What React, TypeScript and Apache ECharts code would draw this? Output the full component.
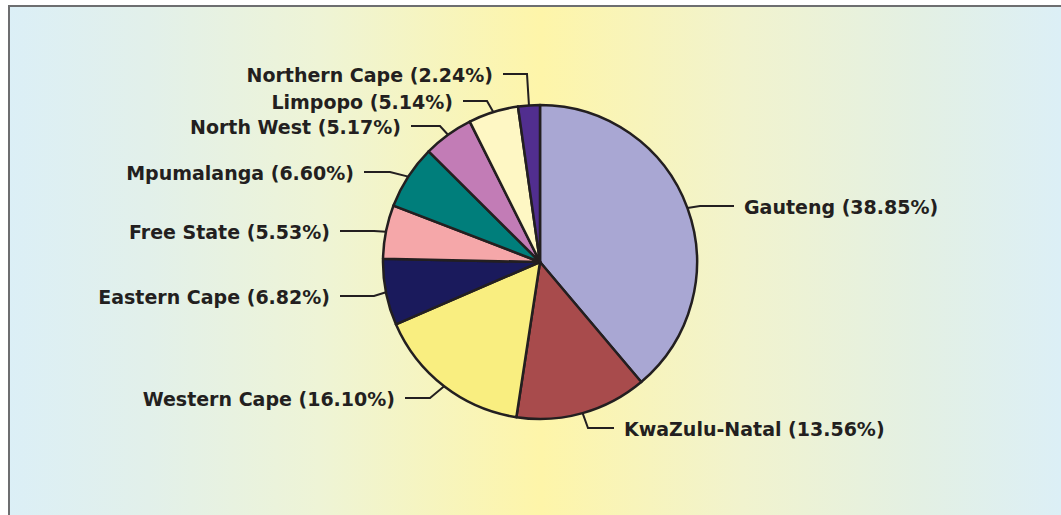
import React, { useEffect, useRef } from "react";
import * as echarts from "echarts";

const provinces = [
  "Gauteng",
  "KwaZulu-Natal",
  "Western Cape",
  "Eastern Cape",
  "Free State",
  "Mpumalanga",
  "North West",
  "Limpopo",
  "Northern Cape",
];
const shares = [38.85, 13.56, 16.1, 6.82, 5.53, 6.6, 5.17, 5.14, 2.24];
const colors = [
  "#A9A7D3",
  "#A84B4C",
  "#F9EE80",
  "#1A1A5C",
  "#F5A7A9",
  "#007E7B",
  "#C27CB6",
  "#FEF7C4",
  "#512E8F",
];

// label-line layout: [elbow, end] and which side the text sits on
const labelGuides: [number[], number[], "left" | "right"][] = [
  [[700, 206], [734, 206], "left"],
  [[588, 428], [614, 428], "left"],
  [[430, 398], [405, 398], "right"],
  [[374, 296], [340, 296], "right"],
  [[374, 231], [340, 231], "right"],
  [[390, 172], [364, 172], "right"],
  [[440, 126], [411, 126], "right"],
  [[487, 101], [463, 101], "right"],
  [[527, 74], [503, 74], "right"],
];

const CX = 540;
const CY = 262;
const R = 157;
const INK = "#231F20";

export default function App() {
  const ref = useRef<HTMLDivElement>(null);
  useEffect(() => {
    if (!ref.current) return;
    const chart = echarts.init(ref.current, null, { renderer: "svg" });
    const total = shares.reduce((a, b) => a + b, 0);
    const mids: number[] = [];
    let acc = 0;
    shares.forEach((v) => {
      mids.push(((acc + v / 2) / total) * Math.PI * 2);
      acc += v;
    });
    chart.setOption({
      animation: false,
      graphic: [
        {
          type: "rect",
          z: -10,
          silent: true,
          shape: { x: 9, y: 6, width: 1080, height: 540 },
          style: {
            fill: {
              type: "linear",
              global: true,
              x: 0,
              y: 0,
              x2: 1061,
              y2: 0,
              colorStops: [
                { offset: 0, color: "#DBEFF7" },
                { offset: 0.14, color: "#E2F0EA" },
                { offset: 0.3, color: "#EEF4D6" },
                { offset: 0.51, color: "#FEF5A9" },
                { offset: 0.7, color: "#F1F3CE" },
                { offset: 0.87, color: "#E3F0E4" },
                { offset: 1, color: "#DCEFF6" },
              ],
            },
            stroke: "#6D6E70",
            lineWidth: 2,
          },
        },
      ],
      series: [
        {
          type: "pie",
          center: [CX, CY],
          radius: R,
          startAngle: 90,
          clockwise: true,
          avoidLabelOverlap: false,
          emphasis: { disabled: true },
          data: provinces.map((name, i) => ({
            name,
            value: shares[i],
            itemStyle: { color: colors[i] },
          })),
          itemStyle: { borderColor: INK, borderWidth: 2.5 },
          label: {
            show: true,
            position: "outside",
            formatter: (p: any) => `${p.name} (${Number(p.value).toFixed(2)}%)`,
            fontFamily: "DejaVu Sans",
            fontWeight: "bold",
            fontSize: 19,
            color: INK,
          },
          labelLine: {
            show: true,
            length: 10,
            length2: 10,
            lineStyle: { color: INK, width: 2 },
          },
          labelLayout: (params: any) => {
            const i = params.dataIndex;
            const [elbow, end, side] = labelGuides[i];
            const a = mids[i];
            const start = [CX + R * Math.sin(a), CY - R * Math.cos(a)];
            return {
              x: side === "left" ? end[0] + 10 : end[0] - 10,
              y: end[1] + 1,
              align: side,
              verticalAlign: "middle",
              labelLinePoints: [start, elbow, end],
            };
          },
        },
      ],
    });
    return () => chart.dispose();
  }, []);
  return (
    <div
      ref={ref}
      style={{ position: "absolute", left: 0, top: 0, width: 1061, height: 515 }}
    />
  );
}
